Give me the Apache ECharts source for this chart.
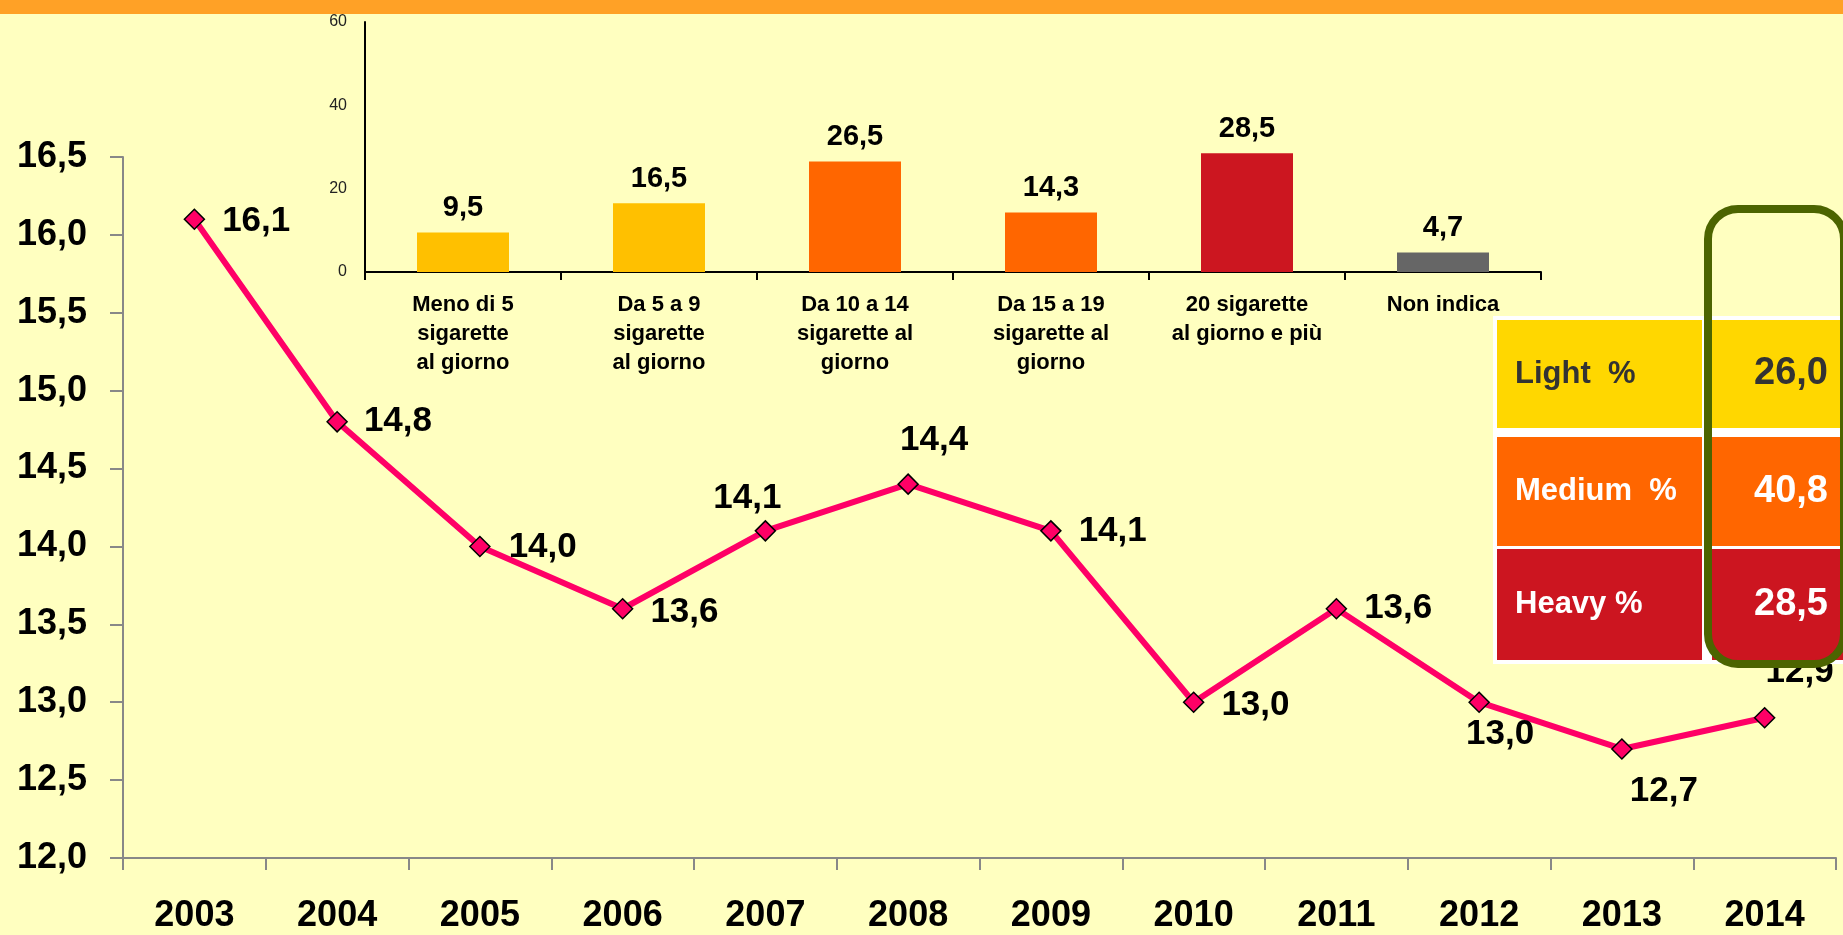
<!DOCTYPE html>
<html>
<head>
<meta charset="utf-8">
<script src="https://cdn.jsdelivr.net/npm/echarts@6/dist/echarts.min.js"></script>
<style>
html,body{margin:0;padding:0;background:#FFFFC0;}
#main{width:1843px;height:935px;}
</style>
</head>
<body>
<div id="main"></div>
<script>
// ---- data ----
const years = ['2003','2004','2005','2006','2007','2008','2009','2010','2011','2012','2013','2014'];
const avgCigs = [16.1, 14.8, 14.0, 13.6, 14.1, 14.4, 14.1, 13.0, 13.6, 13.0, 12.7, 12.9];
const lineAxisTicks = {min: 12, max: 16.5, interval: 0.5};

const barCategories = ['Meno di 5\nsigarette\nal giorno', 'Da 5 a 9\nsigarette\nal giorno', 'Da 10 a 14\nsigarette al\ngiorno', 'Da 15 a 19\nsigarette al\ngiorno', '20 sigarette\nal giorno e più', 'Non indica'];
const barValues = [9.5, 16.5, 26.5, 14.3, 28.5, 4.7];
const barAxisTicks = {min: 0, max: 60, interval: 20};

const tableLabels = ['Light  %', 'Medium  %', 'Heavy %'];
const tableValues = [26.0, 40.8, 28.5];

// ---- styles / placement (kept separate from data) ----
const barColors = ['#FFC000', '#FFC000', '#FF6600', '#FF6600', '#CC1620', '#666666'];
const tableColors = ['#FFD700', '#FF6600', '#CC1520'];
const tableTextColors = ['#333333', '#FFFFFF', '#FFFFFF'];
const labelPlacement = [
  {position: 'right', distance: 17, offset: [0, 2]},
  {position: 'right', distance: 16, offset: [0, 0]},
  {position: 'right', distance: 18, offset: [0, 1]},
  {position: 'right', distance: 17, offset: [0, 4]},
  {position: 'top', distance: 4, offset: [-18, 0]},
  {position: 'top', distance: 16, offset: [26, 0]},
  {position: 'right', distance: 17, offset: [0, 0]},
  {position: 'right', distance: 17, offset: [0, 3]},
  {position: 'right', distance: 17, offset: [0, 0]},
  {position: 'bottom', distance: 4, offset: [21, 0]},
  {position: 'bottom', distance: 14, offset: [42, 0]},
  {position: 'top', distance: 17, offset: [35, 0]}
];

const fmt = v => v.toFixed(1).replace('.', ',');
const FONT = '"Liberation Sans", Arial, sans-serif';

const chart = echarts.init(document.getElementById('main'));

const lineData = avgCigs.map((v, i) => ({
  value: v,
  label: labelPlacement[i]
}));
const barData = barValues.map((v, i) => ({value: v, itemStyle: {color: barColors[i]}}));

// table graphics
const rowTops = [320, 437, 549];
const rowHeights = [108, 109, 111];
const tableGraphics = [
  {type: 'rect', z: 100, shape: {x: 1493, y: 316, width: 360, height: 348}, style: {fill: '#FFFFFF'}}
];
tableLabels.forEach((lab, i) => {
  tableGraphics.push({type: 'rect', z: 101, shape: {x: 1497, y: rowTops[i], width: 205, height: rowHeights[i]}, style: {fill: tableColors[i]}});
  tableGraphics.push({type: 'rect', z: 101, shape: {x: 1712, y: rowTops[i], width: 140, height: rowHeights[i]}, style: {fill: tableColors[i]}});
  tableGraphics.push({type: 'text', z: 102, x: 1515, y: rowTops[i] + rowHeights[i] / 2,
    style: {text: lab, fill: tableTextColors[i], font: 'bold 31px ' + FONT, textAlign: 'left', textVerticalAlign: 'middle'}});
  tableGraphics.push({type: 'text', z: 102, x: 1828, y: rowTops[i] + rowHeights[i] / 2,
    style: {text: fmt(tableValues[i]), fill: tableTextColors[i], font: 'bold 38px ' + FONT, textAlign: 'right', textVerticalAlign: 'middle'}});
});
tableGraphics.push({type: 'rect', z: 103, shape: {x: 1708, y: 209, width: 136, height: 455, r: 30},
  style: {fill: 'none', stroke: '#4C6400', lineWidth: 8}});

const option = {
  backgroundColor: '#FFFFC0',
  animation: false,
  textStyle: {fontFamily: FONT},
  graphic: [
    {type: 'rect', z: 100, shape: {x: 0, y: 0, width: 1843, height: 14}, style: {fill: '#FFA126'}}
  ].concat(tableGraphics),
  grid: [
    {left: 123, right: 7, top: 157, bottom: 77},
    {left: 365, right: 302, top: 22, bottom: 663}
  ],
  xAxis: [
    {
      type: 'category', gridIndex: 0, data: years, boundaryGap: true,
      axisLine: {lineStyle: {color: '#888888', width: 2}},
      axisTick: {show: true, length: 12, lineStyle: {color: '#888888', width: 2}},
      axisLabel: {fontSize: 36, fontWeight: 'bold', color: '#000', margin: 40, fontFamily: FONT}
    },
    {
      type: 'category', gridIndex: 1, data: barCategories, boundaryGap: true,
      axisLine: {lineStyle: {color: '#000000', width: 2}},
      axisTick: {show: true, length: 8, lineStyle: {color: '#000000', width: 2}},
      axisLabel: {fontSize: 22, fontWeight: 'bold', color: '#000', margin: 18, lineHeight: 29, interval: 0, fontFamily: FONT}
    }
  ],
  yAxis: [
    {
      type: 'value', gridIndex: 0, min: lineAxisTicks.min, max: lineAxisTicks.max, interval: lineAxisTicks.interval,
      axisLine: {show: true, lineStyle: {color: '#888888', width: 2}},
      axisTick: {show: true, length: 13, lineStyle: {color: '#888888', width: 2}},
      splitLine: {show: false},
      axisLabel: {fontSize: 36, fontWeight: 'bold', color: '#000', margin: 36, formatter: v => fmt(v), fontFamily: FONT}
    },
    {
      type: 'value', gridIndex: 1, min: barAxisTicks.min, max: barAxisTicks.max, interval: barAxisTicks.interval,
      axisLine: {show: true, lineStyle: {color: '#000000', width: 2}},
      axisTick: {show: false},
      splitLine: {show: false},
      axisLabel: {fontSize: 16, color: '#222', margin: 18, fontFamily: FONT}
    }
  ],
  series: [
    {
      type: 'line', xAxisIndex: 0, yAxisIndex: 0, data: lineData,
      lineStyle: {color: '#FF0066', width: 6},
      symbol: 'diamond', symbolSize: 20,
      itemStyle: {color: '#FF0066', borderColor: '#000000', borderWidth: 1.5},
      label: {show: true, fontSize: 35, fontWeight: 'bold', color: '#000', formatter: p => fmt(p.value), fontFamily: FONT},
      z: 3
    },
    {
      type: 'bar', xAxisIndex: 1, yAxisIndex: 1, data: barData, barWidth: 92,
      label: {show: true, position: 'top', distance: 10, fontSize: 29, fontWeight: 'bold', color: '#000', formatter: p => fmt(p.value), fontFamily: FONT},
      z: 2
    }
  ]
};
chart.setOption(option);
</script>
</body>
</html>
